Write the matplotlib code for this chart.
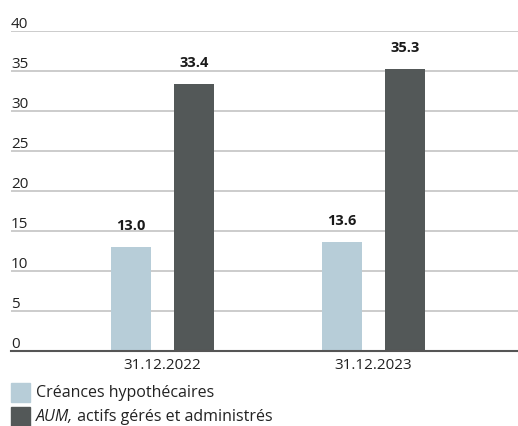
import matplotlib
matplotlib.use("Agg")
import matplotlib.pyplot as plt
import matplotlib.transforms as mtransforms
from matplotlib.patches import Rectangle
import numpy as np

categories = ["31.12.2022", "31.12.2023"]
creances = [13.0, 13.6]
aum = [33.4, 35.3]
yticks = [0, 5, 10, 15, 20, 25, 30, 35, 40]
series_names = ["Créances hypothécaires", "AUM,", " actifs gérés et administrés"]

c_light = "#b7cdd8"
c_dark = "#535858"
font = "Open Sans"
plt.rcParams["font.family"] = [font, "DejaVu Sans"]
fs = 11

W, H = 518, 427
fig = plt.figure(figsize=(W / 100, H / 100), dpi=100)
left, right = 11 / W, 1.0
bottom, top = (H - 352) / H, (H - 32) / H
ax = fig.add_axes([left, bottom, right - left, top - bottom])

x = np.arange(len(categories))
bw = 0.19
off = 0.151
b1 = ax.bar(x - off, creances, bw, color=c_light, zorder=3)
b2 = ax.bar(x + off, aum, bw, color=c_dark, zorder=3)

for bars, vals in ((b1, creances), (b2, aum)):
    for r, v in zip(bars, vals):
        ax.annotate(f"{v:.1f}", (r.get_x() + r.get_width() / 2, v),
                    xytext=(0, 13), textcoords="offset points",
                    ha="center", va="baseline", fontsize=10.5,
                    fontweight="bold", color="#1a1a1a")

ax.set_ylim(0, 40)
ax.set_xlim(-0.718, 1.685)
ax.set_yticks(yticks)
ax.set_yticklabels([])
ax.tick_params(axis="y", length=0)
ax.tick_params(axis="x", length=0, pad=4, labelsize=fs, labelcolor="#222222")
ax.set_xticks(x)
ax.set_xticklabels(categories)
ax.grid(axis="y", color="#c4c4c4", linewidth=1.2, zorder=0)
for s in ("top", "right", "left"):
    ax.spines[s].set_visible(False)
ax.spines["bottom"].set_color("#555555")
ax.spines["bottom"].set_linewidth(1.5)
ax.spines["bottom"].set_zorder(4)

trans = mtransforms.blended_transform_factory(ax.transAxes, ax.transData)
offs = mtransforms.offset_copy(trans, fig=fig, x=0, y=4, units="dots")
for t in yticks:
    ax.text(0, t, str(t), transform=offs, ha="left", va="baseline",
            fontsize=fs, color="#222222")

# legend
sq = 19
rows = [384, 408]
for yy, col in zip(rows, (c_light, c_dark)):
    fig.patches.append(Rectangle((11 / W, (H - yy - sq) / H), sq / W, sq / H,
                                 transform=fig.transFigure, color=col))
fig.text(36 / W, (H - rows[0] - sq / 2) / H, series_names[0], ha="left",
         va="center", fontsize=fs + 0.5, color="#222222")
t1 = fig.text(36 / W, (H - rows[1] - sq / 2) / H, series_names[1], ha="left",
              va="center", fontsize=fs + 0.5, color="#222222", style="italic")
fig.canvas.draw()
ext = t1.get_window_extent()
fig.text(ext.x1 / W, (H - rows[1] - sq / 2) / H, series_names[2], ha="left",
         va="center", fontsize=fs + 0.5, color="#222222")

fig.savefig("out.png", dpi=100)
